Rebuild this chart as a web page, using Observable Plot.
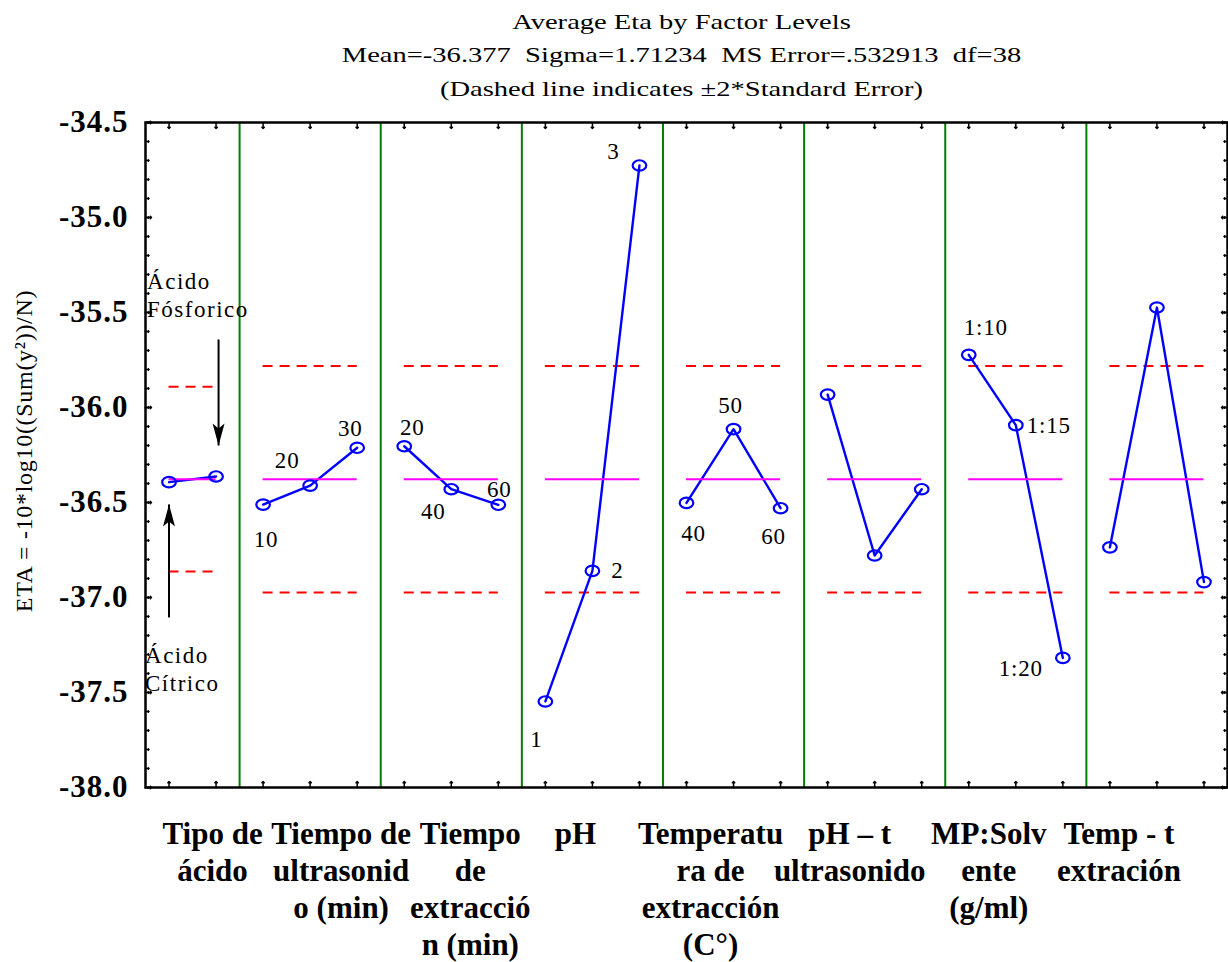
<!DOCTYPE html>
<html>
<head>
<meta charset="utf-8">
<script src="https://cdn.jsdelivr.net/npm/d3@7"></script>
<script src="https://cdn.jsdelivr.net/npm/@observablehq/plot@0.6"></script>
<style>
  body { margin: 0; background: #fff; }
  #chart svg { display: block; }
  g[aria-description="level"] text { letter-spacing: 0.8px; }
  g[aria-description="acid"] text { letter-spacing: 1.5px; }
  g[aria-description="ytitle"] text { letter-spacing: 0.7px; }
  g[aria-description="ytick"] text { letter-spacing: 1px; }
</style>
</head>
<body>
<div id="chart"></div>
<script>
// ---- Factor names (bottom labels, broken into lines) ----
const factorLabels = [
  "Tipo de\nácido",
  "Tiempo de\nultrasonid\no (min)",
  "Tiempo\nde\nextracció\nn (min)",
  "pH",
  "Temperatu\nra de\nextracción\n(C°)",
  "pH – t\nultrasonido",
  "MP:Solv\nente\n(g/ml)",
  "Temp - t\nextración"
];

// ---- Average ETA per factor level ----
const tipoAcido          = [-36.393, -36.363];
const tiempoUltrasonido  = [-36.511, -36.411, -36.212];
const tiempoExtraccion   = [-36.204, -36.430, -36.512];
const pH                 = [-37.547, -36.860, -34.726];
const temperatura        = [-36.502, -36.114, -36.530];
const pHTiempo           = [-35.932, -36.779, -36.430];
const mpSolvente         = [-35.723, -36.093, -37.318];
const tempTiempo         = [-36.736, -35.474, -36.919];

// ---- Level names ----
const acidLevels = ["Ácido\nCítrico", "Ácido\nFósforico"];
const levelLabels = [
  [],
  ["10", "20", "30"],
  ["20", "40", "60"],
  ["1", "2", "3"],
  ["40", "50", "60"],
  [],
  ["1:10", "1:15", "1:20"],
  []
];

// ---- ANOVA summary (L18 design) ----
const meanEta = -36.377;
const sigmaEta = 1.71234;
const msError = 0.532913;
const dfError = 38;
const runs = 18;

// ---- Y tick labels ----
const yTickValues = [-38.0, -37.5, -37.0, -36.5, -36.0, -35.5, -35.0, -34.5];

// =====================================================================
const serif = "'Liberation Serif', 'Times New Roman', Times, serif";
const series = [tipoAcido, tiempoUltrasonido, tiempoExtraccion, pH,
                temperatura, pHTiempo, mpSolvente, tempTiempo];

// consecutive level positions; the two-level factor takes two slots, the rest three
const levelStart = series.map((s, p) => (p === 0 ? 0 : 3 * p - 1));
const xMax = levelStart[series.length - 1] + series[series.length - 1].length - 1;

const points = series.flatMap((vals, p) =>
  vals.map((v, j) => ({factor: p, level: j, u: levelStart[p] + j, eta: v}))
);

// ±2 standard error limits around the grand mean, n = runs / levels
const bands = series.map((vals, p) => {
  const h = 2 * Math.sqrt(msError / (runs / vals.length));
  return {x1: levelStart[p], x2: levelStart[p] + vals.length - 1, lo: meanEta - h, hi: meanEta + h, mean: meanEta};
});

const separators = levelStart.slice(1).map(s => s - 0.5);
const panelCenters = series.map((vals, p) => levelStart[p] + (vals.length - 1) / 2);

// horizontal nudges of the factor names (px)
const factorNudge = [20, 31, 19, -17, -23, -25, -27, -38];

// level-name offsets from their point (px)
const levelNudge = [
  [],
  [[3, 35], [-23, -25], [-7, -19]],
  [[8, -19], [-18, 22], [1, -15]],
  [[-9, 38], [25, 0], [-26, -14]],
  [[7, 31], [-3, -24], [-7, 28]],
  [],
  [[17, -27], [33, 0], [-42, 11]],
  []
];

const yMinor = d3.range(0, 36).map(i => +(-38 + i * 0.1).toFixed(1));
const yMajor = yTickValues;
const xTicks = d3.range(0, xMax + 1);

const fmtY = d => d.toFixed(1);

// hollow, slightly flattened marker
const ellipse = {
  draw(ctx) {
    const rx = 6.8, ry = 5.2, k = 0.5523;
    ctx.moveTo(rx, 0);
    ctx.bezierCurveTo(rx, ry * k, rx * k, ry, 0, ry);
    ctx.bezierCurveTo(-rx * k, ry, -rx, ry * k, -rx, 0);
    ctx.bezierCurveTo(-rx, -ry * k, -rx * k, -ry, 0, -ry);
    ctx.bezierCurveTo(rx * k, -ry, rx, -ry * k, rx, 0);
    ctx.closePath();
  }
};
// filled arrow head, tip at the origin, pointing up
const arrowHead = {
  draw(ctx) {
    ctx.moveTo(0, 0);
    ctx.lineTo(6, 22);
    ctx.lineTo(0, 17);
    ctx.lineTo(-6, 22);
    ctx.closePath();
  }
};

const citrico = points[0], fosforico = points[1];
const arrows = [
  {u: citrico.u, tail: citrico.eta - 0.712, tip: citrico.eta - 0.117, rot: 0, dx: 0},
  {u: fosforico.u, tail: fosforico.eta + 0.721, tip: fosforico.eta + 0.163, rot: 180, dx: 2.5}
];

const levelTextMarks = [];
levelLabels.forEach((labels, p) => {
  labels.forEach((txt, j) => {
    const pt = points.find(d => d.factor === p && d.level === j);
    const [dx, dy] = levelNudge[p][j];
    levelTextMarks.push(Plot.text([{...pt, txt}], {
      x: "u", y: "eta", text: "txt", dx, dy,
      fontSize: 23, fontFamily: serif, fill: "black", ariaDescription: "level"
    }));
  });
});

const titleText =
  "Average Eta by Factor Levels\n" +
  `Mean=${meanEta}\u00a0\u00a0Sigma=${sigmaEta}\u00a0\u00a0MS Error=${String(msError).replace(/^0/, "")}\u00a0\u00a0df=${dfError}\n` +
  "(Dashed line indicates ±2*Standard Error)";

const chart = Plot.plot({
  width: 1228,
  height: 962,
  marginLeft: 145,
  marginRight: 1,
  marginTop: 122,
  marginBottom: 175,
  x: {domain: [-0.5, xMax + 0.5], axis: null},
  y: {domain: [-38, -34.5], axis: null},
  style: {fontFamily: serif, background: "white", color: "black"},
  marks: [
    // title block
    Plot.text([titleText], {
      frameAnchor: "top", textAnchor: "middle", dx: -5, dy: -27, lineAnchor: "bottom", lineHeight: 33.5 / 21,
      fontSize: 21, fontFamily: serif, fill: "black", ariaDescription: "title"
    }),
    // factor separators
    Plot.ruleX(separators, {x: d => d, stroke: "#008000", strokeWidth: 2}),
    // ±2 SE limits
    Plot.ruleY(bands, {y: "hi", x1: "x1", x2: "x2", stroke: "#ff0000", strokeWidth: 2, strokeDasharray: "10,7"}),
    Plot.ruleY(bands, {y: "lo", x1: "x1", x2: "x2", stroke: "#ff0000", strokeWidth: 2, strokeDasharray: "10,7"}),
    // factor-level means
    Plot.line(points, {x: "u", y: "eta", z: "factor", stroke: "#0000ff", strokeWidth: 2.4}),
    // grand mean
    Plot.ruleY(bands, {y: "mean", x1: "x1", x2: "x2", stroke: "#ff00ff", strokeWidth: 2}),
    Plot.dot(points, {x: "u", y: "eta", symbol: ellipse, stroke: "#0000ff", strokeWidth: 2.2, fill: "none"}),
    // level names
    ...levelTextMarks,
    // acid annotations
    Plot.text([{...citrico, txt: acidLevels[0]}], {
      x: "u", y: "eta", text: "txt", dx: -24, dy: 209, textAnchor: "start", lineAnchor: "bottom",
      lineHeight: 28 / 23, fontSize: 23, fontFamily: serif, fill: "black", ariaDescription: "acid"
    }),
    Plot.text([{...fosforico, txt: acidLevels[1]}], {
      x: "u", y: "eta", text: "txt", dx: -69, dy: -159, textAnchor: "start", lineAnchor: "bottom",
      lineHeight: 28 / 23, fontSize: 23, fontFamily: serif, fill: "black", ariaDescription: "acid"
    }),
    ...arrows.map(a => Plot.link([a], {x1: "u", x2: "u", y1: "tail", y2: "tip", dx: a.dx, stroke: "black", strokeWidth: 2})),
    ...arrows.map(a => Plot.dot([a], {x: "u", y: "tip", dx: a.dx, symbol: arrowHead, rotate: a.rot, fill: "black", stroke: "none"})),
    // frame and inward ticks
    Plot.frame({stroke: "black", strokeWidth: 2.5}),
    Plot.vector(yMinor, {y: d => d, frameAnchor: "left", length: 3.5, rotate: 90, anchor: "start", stroke: "black", strokeWidth: 1.5}),
    Plot.vector(yMajor, {y: d => d, frameAnchor: "left", length: 6, rotate: 90, anchor: "start", stroke: "black", strokeWidth: 1.5}),
    Plot.vector(yMinor, {y: d => d, frameAnchor: "right", length: 3.5, rotate: -90, anchor: "start", stroke: "black", strokeWidth: 1.5}),
    Plot.vector(yMajor, {y: d => d, frameAnchor: "right", length: 6, rotate: -90, anchor: "start", stroke: "black", strokeWidth: 1.5}),
    Plot.vector(xTicks, {x: d => d, frameAnchor: "bottom", length: 6, rotate: 0, anchor: "start", stroke: "black", strokeWidth: 1.5}),
    Plot.vector(xTicks, {x: d => d, frameAnchor: "top", length: 6, rotate: 180, anchor: "start", stroke: "black", strokeWidth: 1.5}),
    // y tick labels
    Plot.text(yMajor, {
      y: d => d, text: fmtY, frameAnchor: "left", dx: -17, textAnchor: "end", lineAnchor: "middle",
      fontSize: 31, fontWeight: "bold", fontFamily: serif, fill: "black", ariaDescription: "ytick"
    }),
    // y axis title
    Plot.text(["ETA = -10*log10((Sum(y²))/N)"], {
      frameAnchor: "left", dx: -121, dy: -4, rotate: -90, textAnchor: "middle", lineAnchor: "middle",
      fontSize: 24, fontFamily: serif, fill: "black", ariaDescription: "ytitle"
    }),
    // factor names
    ...factorLabels.map((lab, p) => Plot.text([lab], {
      x: () => panelCenters[p], frameAnchor: "bottom", dx: factorNudge[p], dy: 30,
      textAnchor: "middle", lineAnchor: "top", lineHeight: 37 / 31,
      fontSize: 31, fontWeight: "bold", fontFamily: serif, fill: "black"
    }))
  ]
});

// the heading is set in a horizontally widened face
d3.select(chart).selectAll('g[aria-description="title"] text').each(function () {
  const t = this.getAttribute("transform");
  if (t) this.setAttribute("transform", t + " scale(1.36,1)");
});

document.getElementById("chart").appendChild(chart);
</script>
</body>
</html>
